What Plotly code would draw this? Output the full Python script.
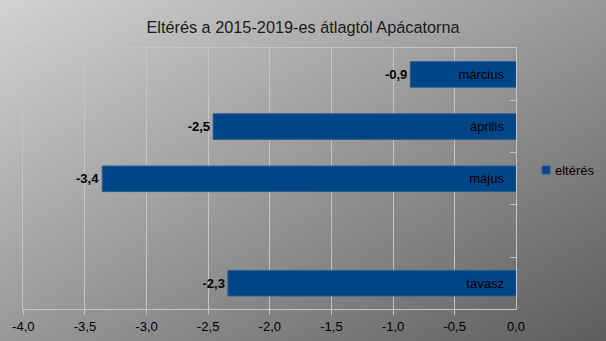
import base64
import plotly.graph_objects as go

# ---- data ----
categories = ["március", "április", "május", " ", "tavasz"]
values = [-0.86, -2.46, -3.36, None, -2.34]
series_name = "eltérés"
title_text = "Eltérés a 2015-2019-es átlagtól Apácatorna"
x_ticks = [-4.0, -3.5, -3.0, -2.5, -2.0, -1.5, -1.0, -0.5, 0.0]
x_tick_labels = [f"{t:.1f}".replace(".", ",") for t in x_ticks]
value_labels = ["" if v is None else f"{v:.1f}".replace(".", ",") for v in values]

W, H = 606, 341
FONT = "Liberation Sans"
GRID = "#c4c4c4"
BAR = "#004586"

# gradient background as svg image
svg = (
    f'<svg xmlns="http://www.w3.org/2000/svg" width="{W}" height="{H}" '
    f'viewBox="0 0 {W} {H}" preserveAspectRatio="none">'
    '<defs><linearGradient id="g" x1="0" y1="0" x2="1" y2="1">'
    '<stop offset="0" stop-color="#d2d2d2"/><stop offset="1" stop-color="#5e5e5e"/>'
    '</linearGradient></defs>'
    f'<rect x="0" y="0" width="{W}" height="{H}" fill="url(#g)"/></svg>'
)
bg_src = "data:image/svg+xml;base64," + base64.b64encode(svg.encode("utf-8")).decode("ascii")

# plot area in pixels
px_left, px_right, px_top, px_bottom = 23.3, 516.3, 48.3, 309.3

fig = go.Figure()
fig.add_trace(go.Bar(
    y=categories,
    x=values,
    orientation="h",
    name=series_name,
    width=0.49,
    marker=dict(color=BAR, line=dict(color="#2b5f93", width=1)),
    text=value_labels,
    textposition="outside",
    textfont=dict(family=FONT, size=13, color="#000000", weight="bold"),
    cliponaxis=False,
    showlegend=False,
))

# legend drawn as key square + text
leg_x, leg_y = 546 / W, 1 - 170 / H
fig.add_shape(type="rect", xref="paper", yref="paper",
              x0=leg_x - 4 / W, x1=leg_x + 4 / W, y0=leg_y - 4 / H, y1=leg_y + 4 / H,
              fillcolor=BAR, line=dict(color="#2b5f93", width=1), layer="above")
fig.add_annotation(text=series_name, xref="paper", yref="paper",
                   x=553 / W, y=leg_y, xanchor="left", yanchor="middle", showarrow=False,
                   font=dict(family=FONT, size=13, color="#000000"))

# the end tick label (plotly hides it next to inside category labels)
fig.add_annotation(text=x_tick_labels[-1], xref="x", yref="paper",
                   x=x_ticks[-1], y=1 - 326 / H, xanchor="center", yanchor="middle",
                   showarrow=False, font=dict(family=FONT, size=13, color="#000000"))

fig.update_layout(
    width=W,
    height=H,
    margin=dict(l=0, r=0, t=0, b=0),
    paper_bgcolor="#999999",
    plot_bgcolor="rgba(0,0,0,0)",
    showlegend=False,
    images=[dict(source=bg_src, xref="paper", yref="paper", x=0, y=1,
                 sizex=1, sizey=1, sizing="stretch", layer="below",
                 xanchor="left", yanchor="top")],
    title=dict(text=title_text, x=0.5, xanchor="center", y=1 - 27 / H, yanchor="middle",
               font=dict(family=FONT, size=16.3, color="#1a1a1a")),
    font=dict(family=FONT, size=13, color="#000000"),
    separators=", ",
    bargap=0.5,
    xaxis=dict(
        domain=[px_left / W, px_right / W],
        range=[-4.0, 0.0],
        tickvals=x_ticks,
        ticktext=x_tick_labels,
        showgrid=True, gridcolor=GRID, gridwidth=1,
        zeroline=False,
        showline=True, linecolor=GRID, linewidth=1, mirror=True,
        ticks="outside", ticklen=5, tickcolor=GRID,
        tickfont=dict(family=FONT, size=13, color="#000000"),
        automargin=False,
        fixedrange=True,
    ),
    yaxis=dict(
        domain=[1 - px_bottom / H, 1 - px_top / H],
        type="category",
        categoryorder="array",
        categoryarray=categories,
        autorange="reversed",
        side="right",
        ticklabelposition="inside",
        ticklabelstandoff=6,
        showgrid=False,
        zeroline=False,
        showline=True, linecolor=GRID, linewidth=1, mirror=True,
        ticks="inside", ticklen=6, tickcolor=GRID, tickson="boundaries",
        tickfont=dict(family=FONT, size=13, color="#000000"),
        automargin=False,
        fixedrange=True,
    ),
)

fig.write_html("out.html")
